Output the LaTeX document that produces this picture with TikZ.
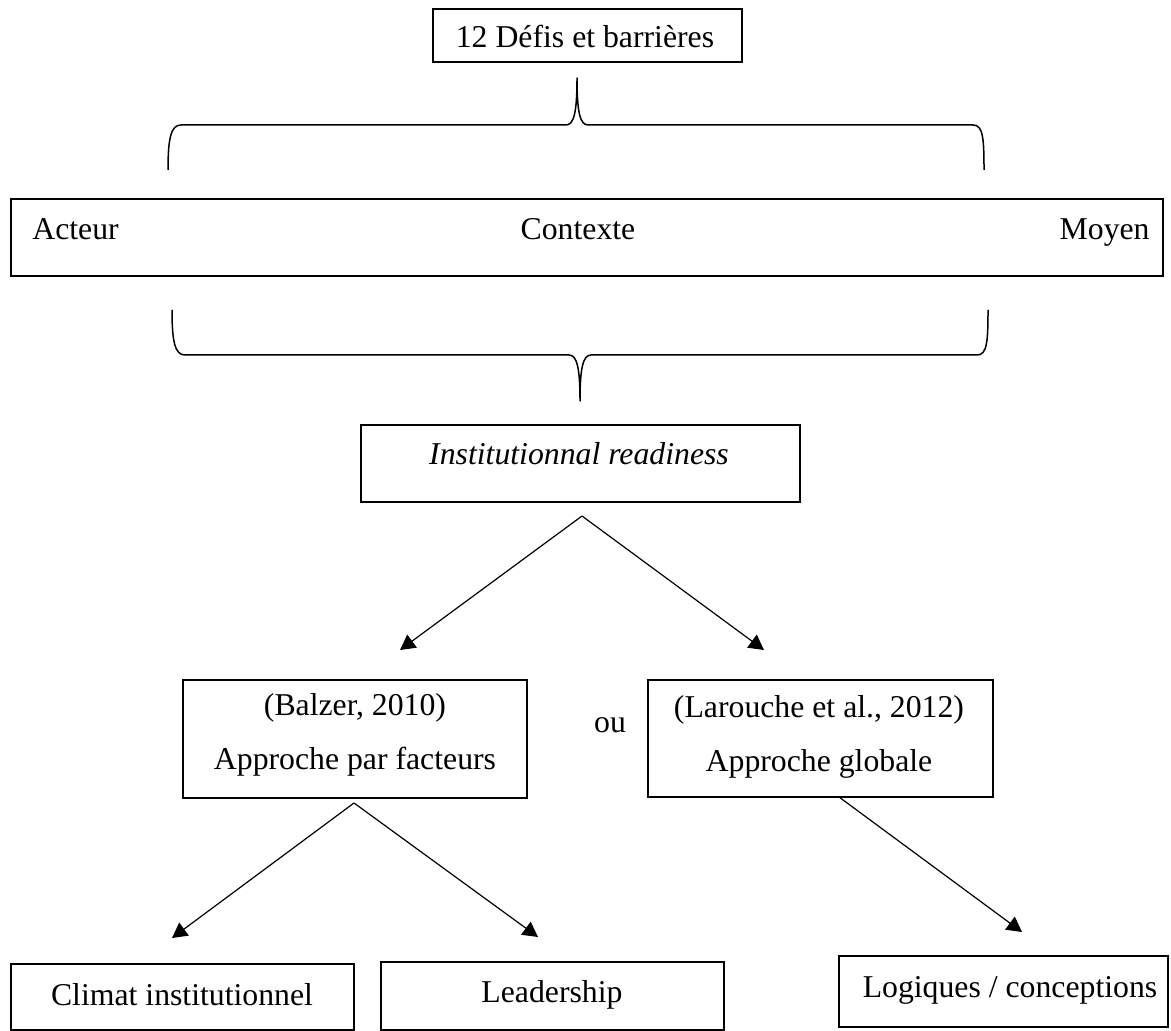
\documentclass[tikz,border=0pt]{standalone}
\usepackage{fontspec}
\setmainfont{Liberation Serif}
\usetikzlibrary{arrows.meta}
\begin{document}
\begin{tikzpicture}[x=0.5pt,y=-0.5pt,
  box/.style={draw, line width=0.9pt, rectangle, inner sep=0pt, outer sep=0pt, anchor=north west},
  lbl/.style={inner sep=0pt, font=\fontsize{15.875}{19}\selectfont},
  brace/.style={line width=0.75pt, line join=round},
  arr/.style={line width=0.6pt, -{Triangle[length=7.5pt,width=8pt]}}]
\useasboundingbox (0,0) rectangle (1171,1031);
% boxes
\node[box, minimum width=154.5pt, minimum height=26.5pt] (defis) at (433,9) {};
\node[lbl, anchor=base] (tdefis) at (585,48) {12 Défis et barrières};
\node[box, minimum width=576pt, minimum height=38.5pt] (mid) at (11,199) {};
\node[lbl, anchor=base west] (acteur) at (32,240) {Acteur};
\node[lbl, anchor=base] (contexte) at (578,240) {Contexte};
\node[lbl, anchor=base east] (moyen) at (1150,240) {Moyen};
\node[box, minimum width=219.5pt, minimum height=38.5pt] (inst) at (361,425) {};
\node[lbl, anchor=base, font=\fontsize{15.875}{19}\selectfont\itshape] (tinst) at (579,465) {Institutionnal readiness};
\node[box, minimum width=172pt, minimum height=59pt] (balzer) at (183,680) {};
\node[lbl, anchor=base] (tbal1) at (355,715) {(Balzer, 2010)};
\node[lbl, anchor=base] (tbal2) at (355,769) {Approche par facteurs};
\node[box, minimum width=172.5pt, minimum height=58.5pt] (larouche) at (648,680) {};
\node[lbl, anchor=base] (tlar1) at (819,717) {(Larouche et al., 2012)};
\node[lbl, anchor=base] (tlar2) at (819,771) {Approche globale};
\node[lbl, anchor=base] (ou) at (610,732) {ou};
\node[box, minimum width=171.5pt, minimum height=33pt] (climat) at (11,964) {};
\node[lbl, anchor=base] (tclimat) at (182,1005) {Climat institutionnel};
\node[box, minimum width=171.5pt, minimum height=34pt] (leader) at (381,962) {};
\node[lbl, anchor=base] (tleader) at (552,1002) {Leadership};
\node[box, minimum width=164.5pt, minimum height=35.5pt] (logiques) at (839,956) {};
\node[lbl, anchor=base] (tlogiques) at (1010,997) {Logiques / conceptions};
% braces
\coordinate (tipA) at (577,78);
\coordinate (tipB) at (580,401);
\draw[brace] (168,170) .. controls (168,138) and (171,125) .. (181,125) -- (566,125)
  .. controls (574,125) and (577,112) .. (tipA)
  .. controls (577,112) and (580,125) .. (588,125) -- (973,125)
  .. controls (983,125) and (984,138) .. (984,170);
\draw[brace] (172,310) .. controls (172,342) and (175,355) .. (185,355) -- (569,355)
  .. controls (577,355) and (580,368) .. (tipB)
  .. controls (580,368) and (583,355) .. (591,355) -- (977,355)
  .. controls (987,355) and (988,342) .. (988,310);
% arrows
\coordinate (apexI) at (582,516);
\coordinate (tipBal) at (400,650);
\coordinate (tipLar) at (764,650);
\coordinate (apexB) at (354,803);
\coordinate (tipCli) at (172,938);
\coordinate (tipLea) at (538,937);
\coordinate (apexL) at (839,797);
\coordinate (tipLog) at (1022,932);
\draw[arr] (apexI) -- (tipBal);
\draw[arr] (apexI) -- (tipLar);
\draw[arr] (apexB) -- (tipCli);
\draw[arr] (apexB) -- (tipLea);
\draw[arr] (apexL) -- (tipLog);
\end{tikzpicture}
\end{document}
